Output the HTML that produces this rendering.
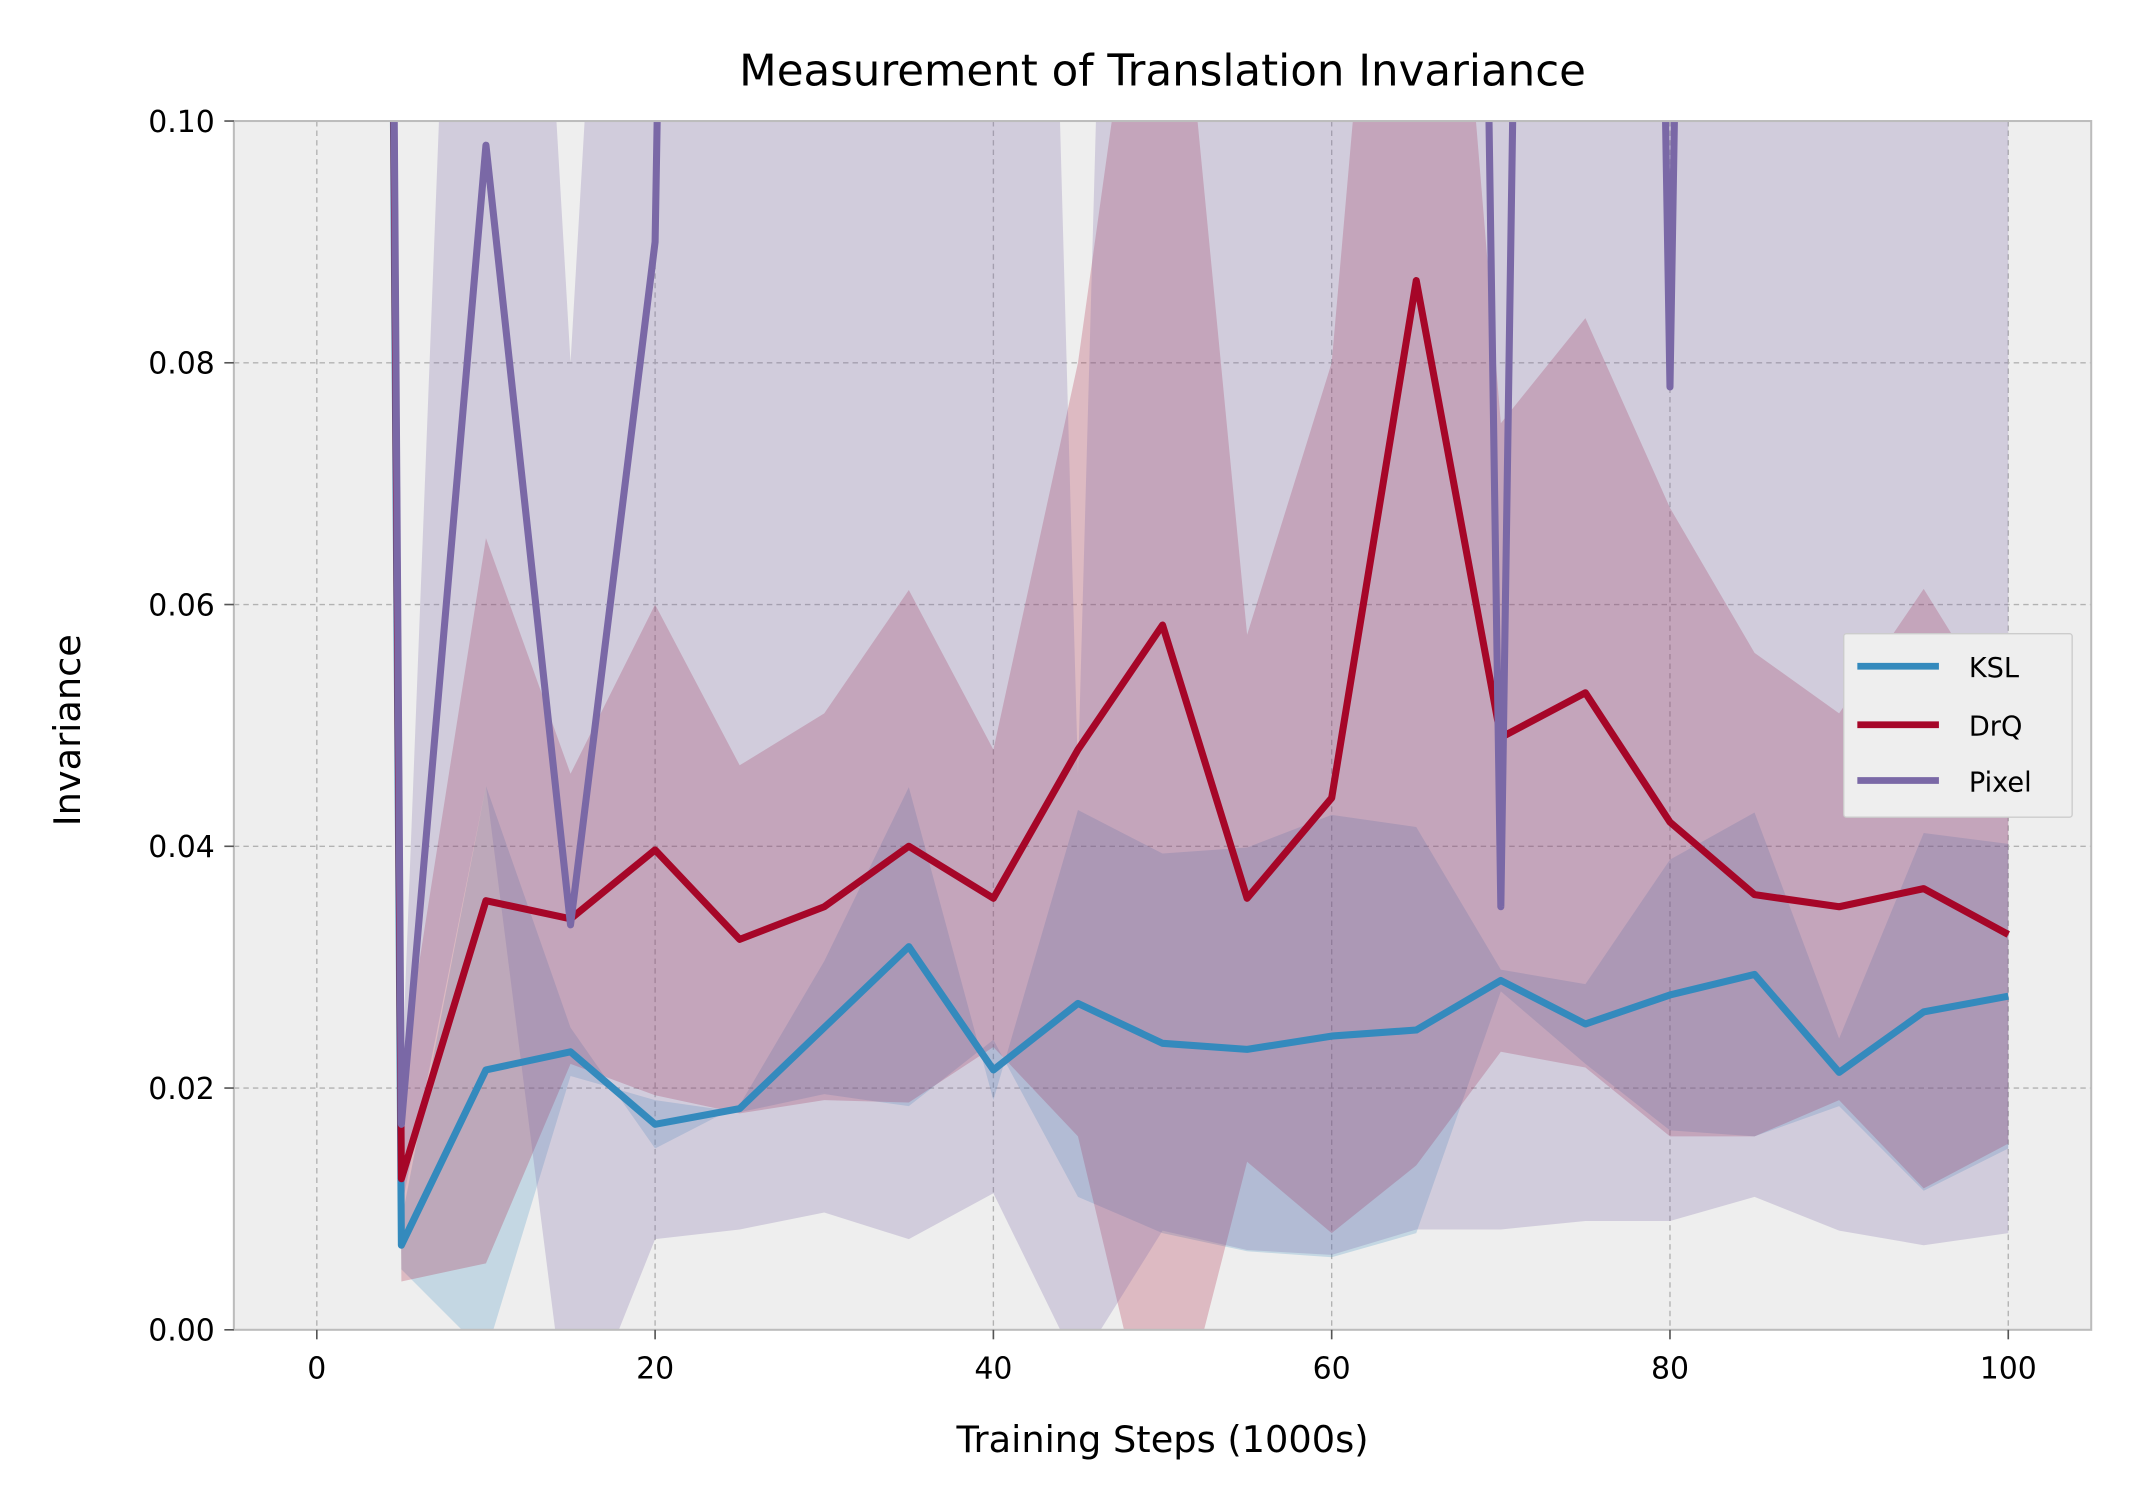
<!DOCTYPE html>
<html><head><meta charset="utf-8"><style>
html,body{margin:0;padding:0;background:#fff;}
svg{display:block;font-family:"DejaVu Sans","Liberation Sans",sans-serif;}
</style></head><body>
<svg id="chart" width="2132" height="1507" viewBox="0 0 1568 1108.3" xmlns="http://www.w3.org/2000/svg">
<defs><clipPath id="plotclip"><rect x="172" y="89" width="1366" height="889"/></clipPath></defs>
<rect x="0" y="0" width="1568" height="1108.3" fill="#fff"/>
<rect x="172" y="89" width="1366" height="889" fill="#eeeeee"/>
<g id="grid"></g>
<g id="series" clip-path="url(#plotclip)"></g>
<rect x="172" y="89" width="1366" height="889" fill="none" stroke="#bcbcbc" stroke-width="1.5"/>
<g id="axes"></g>
<text x="855" y="63" font-size="32" text-anchor="middle">Measurement of Translation Invariance</text>
<text x="855" y="1068" font-size="27" text-anchor="middle">Training Steps (1000s)</text>
<text transform="translate(59,537) rotate(-90)" font-size="27" text-anchor="middle">Invariance</text>
<g>
<rect x="1356" y="466" width="168" height="135" fill="#eeeeee" stroke="#cccccc" stroke-width="1" rx="2"/>
<line x1="1366" y1="490" x2="1426" y2="490" stroke="#348ABD" stroke-width="5"/>
<text x="1448" y="498" font-size="20">KSL</text>
<line x1="1366" y1="533" x2="1426" y2="533" stroke="#A60628" stroke-width="5"/>
<text x="1448" y="541" font-size="20">DrQ</text>
<line x1="1366" y1="574" x2="1426" y2="574" stroke="#7A68A6" stroke-width="5"/>
<text x="1448" y="582" font-size="20">Pixel</text>
</g>
</svg>
<script>
const steps = [0,5,10,15,20,25,30,35,40,45,50,55,60,65,70,75,80,85,90,95,100];
const kslMean = [1.0,0.007,0.0215,0.023,0.017,0.0183,0.025,0.0317,0.0215,0.027,0.0237,0.0232,0.0243,0.0248,0.0289,0.0253,0.0277,0.0294,0.0213,0.0263,0.0276];
const kslLower = [0.9,0.005,-0.002,0.021,0.019,0.018,0.0195,0.0185,0.024,0.011,0.008,0.0065,0.006,0.008,0.028,0.022,0.0165,0.016,0.0185,0.0115,0.015];
const drqMean = [1.0,0.0125,0.0355,0.034,0.0397,0.0323,0.035,0.04,0.0357,0.048,0.0583,0.0357,0.044,0.0868,0.049,0.0527,0.042,0.036,0.035,0.0365,0.0327];
const drqUpper = [1.1,0.021,0.0655,0.046,0.06,0.0467,0.051,0.0612,0.048,0.08,0.13,0.0575,0.08,0.16,0.075,0.0837,0.068,0.056,0.051,0.0613,0.05];
const pixMean = [1.0,0.017,0.098,0.0335,0.09,0.5,0.5,0.5,0.5,0.5,0.5,0.5,0.5,0.5,0.035,0.5,0.078,0.5,0.5,0.5,0.5];
const pixUpper = [1.2,0.02,0.2,0.08,0.2,0.3,0.3,0.3,0.3,0.046,0.3,0.3,0.3,0.3,0.3,0.3,0.3,0.3,0.3,0.3,0.3];
const pixLower = [0.8,0.01,0.045,-0.01,0.0075,0.0083,0.0097,0.0075,0.0113,-0.003,0.0082,0.0066,0.0062,0.0083,0.0083,0.009,0.009,0.011,0.0082,0.007,0.008];
const xTicks = [0,20,40,60,80,100];
const yTicks = [0,0.02,0.04,0.06,0.08,0.10];
const yTickLabels = ["0.00","0.02","0.04","0.06","0.08","0.10"];

const NS="http://www.w3.org/2000/svg";
function X(v){return 233+(v/100)*(1477-233);}
function Y(v){return 978-(v/0.1)*(978-89);}
function mk(tag,attrs,parent){const e=document.createElementNS(NS,tag);for(const k in attrs)e.setAttribute(k,attrs[k]);parent.appendChild(e);return e;}
const grid=document.getElementById('grid'),axes=document.getElementById('axes'),ser=document.getElementById('series');
xTicks.forEach(t=>{
  const g=mk('line',{x1:X(t),x2:X(t),y1:89,y2:978,stroke:'#b2b2b2','stroke-width':1,'stroke-dasharray':'4,3'},grid);
  
  
  const tk=mk('line',{x1:X(t),x2:X(t),y1:978,y2:985,stroke:'#555','stroke-width':1.2},axes);
  
  
  const tx=mk('text',{x:X(t),y:1014,'font-size':22,'text-anchor':'middle'},axes);
  tx.textContent=t;
  
  
});
yTicks.forEach((t,i)=>{
  const g=mk('line',{x1:172,x2:1538,y1:Y(t),y2:Y(t),stroke:'#b2b2b2','stroke-width':1,'stroke-dasharray':'4,3'},grid);
  
  
  const tk=mk('line',{x1:165,x2:172,y1:Y(t),y2:Y(t),stroke:'#555','stroke-width':1.2},axes);
  
  
  const tx=mk('text',{x:158,y:Y(t)+8,'font-size':22,'text-anchor':'end'},axes);
  tx.textContent=yTickLabels[i];
  
  
});
function band(up,lo,color,op,name){
  let d='M'+steps.map((s,i)=>X(s)+','+Y(up[i])).join('L');
  d+='L'+steps.slice().reverse().map((s,j)=>{const i=steps.length-1-j;return X(s)+','+Y(lo[i]);}).join('L')+'Z';
  const p=mk('path',{d:d,fill:color,'fill-opacity':op,stroke:'none'},ser);
  
  
}
function line(m,color,name){
  const p=mk('polyline',{points:steps.map((s,i)=>X(s)+','+Y(m[i])).join(' '),fill:'none',stroke:color,'stroke-width':5.2,'stroke-linejoin':'round'},ser);
  
  
}
const kslUpper=kslMean.map((m,i)=>2*m-kslLower[i]);
const drqLower=drqMean.map((m,i)=>2*m-drqUpper[i]);
band(kslUpper,kslLower,'#348ABD',0.22,'ksl-band');
band(drqUpper,drqLower,'#A60628',0.22,'drq-band');
band(pixUpper,pixLower,'#7A68A6',0.25,'pixel-band');
line(kslMean,'#348ABD','ksl-line');
line(drqMean,'#A60628','drq-line');
line(pixMean,'#7A68A6','pixel-line');
</script>
</body></html>
